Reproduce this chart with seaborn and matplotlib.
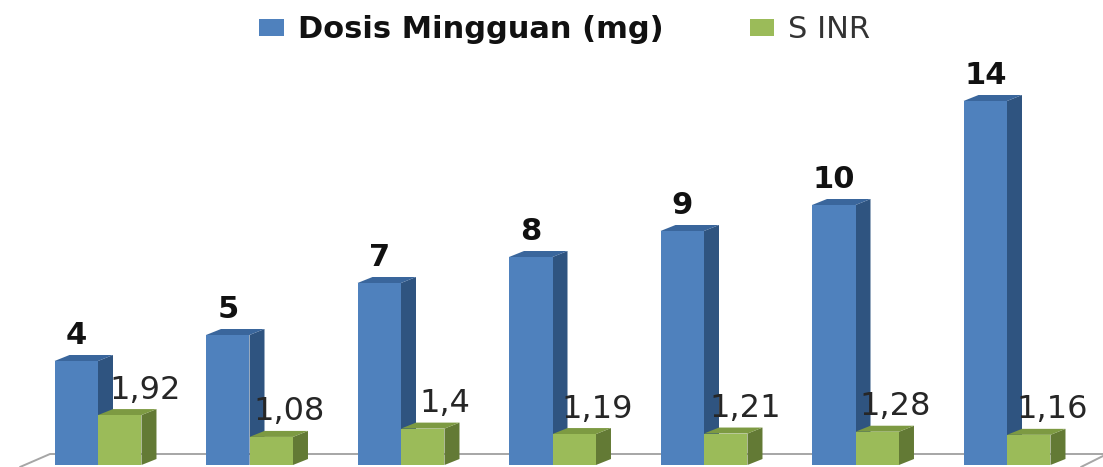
import matplotlib
matplotlib.use('Agg')
import matplotlib.pyplot as plt
import pandas as pd
import seaborn as sns
from matplotlib.patches import Polygon

kelompok = [1, 2, 3, 4, 5, 6, 7]
dosis = [4, 5, 7, 8, 9, 10, 14]
s_inr = [1.92, 1.08, 1.4, 1.19, 1.21, 1.28, 1.16]
s_inr_label = ['1,92', '1,08', '1,4', '1,19', '1,21', '1,28', '1,16']

SERI_1 = 'Dosis Mingguan (mg)'
SERI_2 = 'S INR'

df = pd.DataFrame({
    'kelompok': kelompok * 2,
    'nilai': dosis + s_inr,
    'seri': [SERI_1] * len(dosis) + [SERI_2] * len(s_inr),
})

# pixel scale of the reference
W, H = 1103, 467
PX_X = 151.5
PX_Y = 26.0
DEPTH_X = 15 / PX_X
DEPTH_Y = 6 / PX_Y

sns.set_theme(style='white')
plt.rcParams['font.family'] = ['DejaVu Sans']

fig = plt.figure(figsize=(W / 100, H / 100), dpi=100)
ax = fig.add_axes([0, 0, 1, 1])

sns.barplot(data=df, x='kelompok', y='nilai', hue='seri', width=0.574, gap=0,
            palette={SERI_1: '#4f81bd', SERI_2: '#9bbb59'}, saturation=1,
            linewidth=0, ax=ax)

ax.set_xlim(-98 / PX_X, (W - 98) / PX_X)
ax.set_ylim(-2 / PX_Y, 465 / PX_Y)
ax.set_xlabel('')
ax.set_ylabel('')
ax.set_xticks([])
ax.set_yticks([])
sns.despine(ax=ax, left=True, bottom=True)


def add_depth(bars, side, top, z):
    # side and top faces for the 3d look
    for b in bars:
        x0, x1 = b.get_x(), b.get_x() + b.get_width()
        h = b.get_height()
        ax.add_patch(Polygon([(x1, 0), (x1 + DEPTH_X, DEPTH_Y), (x1 + DEPTH_X, h + DEPTH_Y), (x1, h)],
                             facecolor=side, edgecolor='none', zorder=z))
        ax.add_patch(Polygon([(x0, h), (x0 + DEPTH_X, h + DEPTH_Y), (x1 + DEPTH_X, h + DEPTH_Y), (x1, h)],
                             facecolor=top, edgecolor='none', zorder=z))
        b.set_zorder(z + 0.5)


add_depth(ax.containers[0], '#2f5480', '#3a669c', 3)
add_depth(ax.containers[1], '#637a35', '#7d9a42', 4)

# floor outline
floor = dict(color='#a6a6a6', linewidth=1.4, zorder=1, transform=None)
for xs, ys in [((20, 50, 1103), (0, 13, 13)), ((1081, 1103), (0, 11))]:
    ax.plot(xs, ys, **floor)

# value labels
for b, v in zip(ax.containers[0], dosis):
    ax.annotate(str(v), (b.get_x() + b.get_width() / 2, v), xytext=(0, 25 * 0.72),
                textcoords='offset points', ha='center', va='center',
                fontsize=22, fontweight='bold', color='#111111', zorder=6)

offset_x = [47, 40, 44, 45, 41, 40, 45]
for b, v, t, dx in zip(ax.containers[1], s_inr, s_inr_label, offset_x):
    ax.annotate(t, (b.get_x(), v), xytext=(dx * 0.72, 25 * 0.72),
                textcoords='offset points', ha='center', va='center',
                fontsize=23, color='#262626', zorder=6)

leg = ax.legend(loc='center', bbox_to_anchor=(565 / W, 1 - 30 / H), ncol=2, frameon=False,
                fontsize=22, handlelength=0.79, handleheight=0.5, handletextpad=0.46,
                columnspacing=2.85, borderpad=0, title=None)
leg.get_texts()[0].set_fontweight('bold')
leg.get_texts()[0].set_color('#111111')
leg.get_texts()[1].set_color('#333333')

fig.savefig('out.png', dpi=100)
